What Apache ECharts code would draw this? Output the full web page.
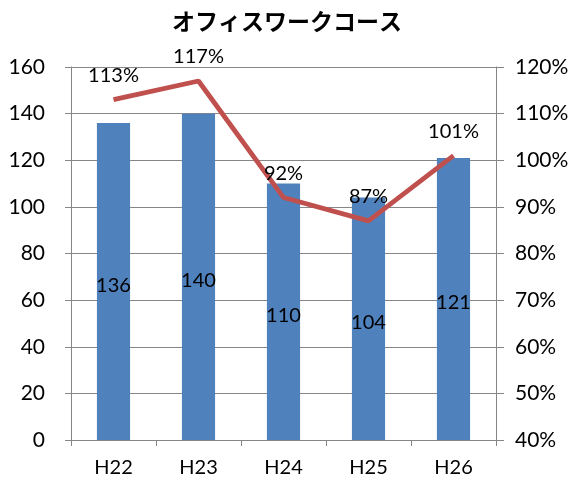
<!DOCTYPE html>
<html>
<head>
<meta charset="utf-8">
<script src="https://cdn.jsdelivr.net/npm/echarts@6/dist/echarts.min.js"></script>
<style>
  html, body { margin: 0; padding: 0; background: #fff; }
  #chart { width: 574px; height: 481px; }
</style>
</head>
<body>
<div id="chart"></div>
<script>
// Course enrolment (bars, left axis) and rate (line, right axis) by fiscal year
const titleText = 'オフィスワークコース';
const categories = ['H22', 'H23', 'H24', 'H25', 'H26'];
const countValues = [136, 140, 110, 104, 121];
const rateValues = [113, 117, 92, 87, 101];

const FONT = 'Lato, "Noto Sans", sans-serif';
const AXIS_GRAY = '#868686';

const chart = echarts.init(document.getElementById('chart'), null, { renderer: 'canvas' });

chart.setOption({
  animation: false,
  backgroundColor: '#ffffff',
  title: {
    text: titleText,
    left: 'center',
    top: 5,
    textStyle: {
      fontFamily: '"Noto Sans CJK JP", sans-serif',
      fontSize: 23,
      fontWeight: 'bold',
      color: '#000'
    }
  },
  grid: { left: 71, right: 78, top: 67, bottom: 41, containLabel: false },
  xAxis: {
    type: 'category',
    data: categories,
    boundaryGap: true,
    axisLine: { lineStyle: { color: AXIS_GRAY, width: 1 } },
    axisTick: { show: true, length: 6, inside: false, lineStyle: { color: AXIS_GRAY } },
    axisLabel: { margin: 18, color: '#000', fontFamily: FONT, fontSize: 20 },
    splitLine: { show: false }
  },
  yAxis: [
    {
      type: 'value',
      min: 0,
      max: 160,
      interval: 20,
      axisLine: { show: true, lineStyle: { color: AXIS_GRAY, width: 1 } },
      axisTick: { show: true, length: 6, lineStyle: { color: AXIS_GRAY } },
      axisLabel: { margin: 26, color: '#000', fontFamily: FONT, fontSize: 21 },
      splitLine: { show: true, lineStyle: { color: AXIS_GRAY, width: 1 } }
    },
    {
      type: 'value',
      min: 40,
      max: 120,
      interval: 10,
      position: 'right',
      axisLine: { show: true, lineStyle: { color: AXIS_GRAY, width: 1 } },
      axisTick: { show: true, length: 8, lineStyle: { color: AXIS_GRAY } },
      axisLabel: {
        margin: 19,
        color: '#000',
        fontFamily: FONT,
        fontSize: 21,
        formatter: v => v + '%'
      },
      splitLine: { show: false }
    }
  ],
  series: [
    {
      name: 'count',
      type: 'bar',
      yAxisIndex: 0,
      data: countValues,
      barWidth: '39%',
      itemStyle: { color: '#4F81BD' },
      label: {
        show: true,
        position: 'inside',
        offset: [0, 4],
        color: '#000',
        fontFamily: FONT,
        fontSize: 20
      }
    },
    {
      name: 'rate',
      type: 'line',
      yAxisIndex: 1,
      data: rateValues,
      symbol: 'circle',
      symbolSize: 2,
      showSymbol: true,
      lineStyle: { color: '#C0504D', width: 4.8 },
      itemStyle: { color: 'rgba(0,0,0,0)', borderWidth: 0 },
      label: {
        show: true,
        position: 'top',
        distance: 13,
        color: '#000',
        fontFamily: FONT,
        fontSize: 20,
        formatter: p => p.value + '%'
      },
      labelLayout: { hideOverlap: false },
      z: 5
    }
  ]
});
</script>
</body>
</html>
